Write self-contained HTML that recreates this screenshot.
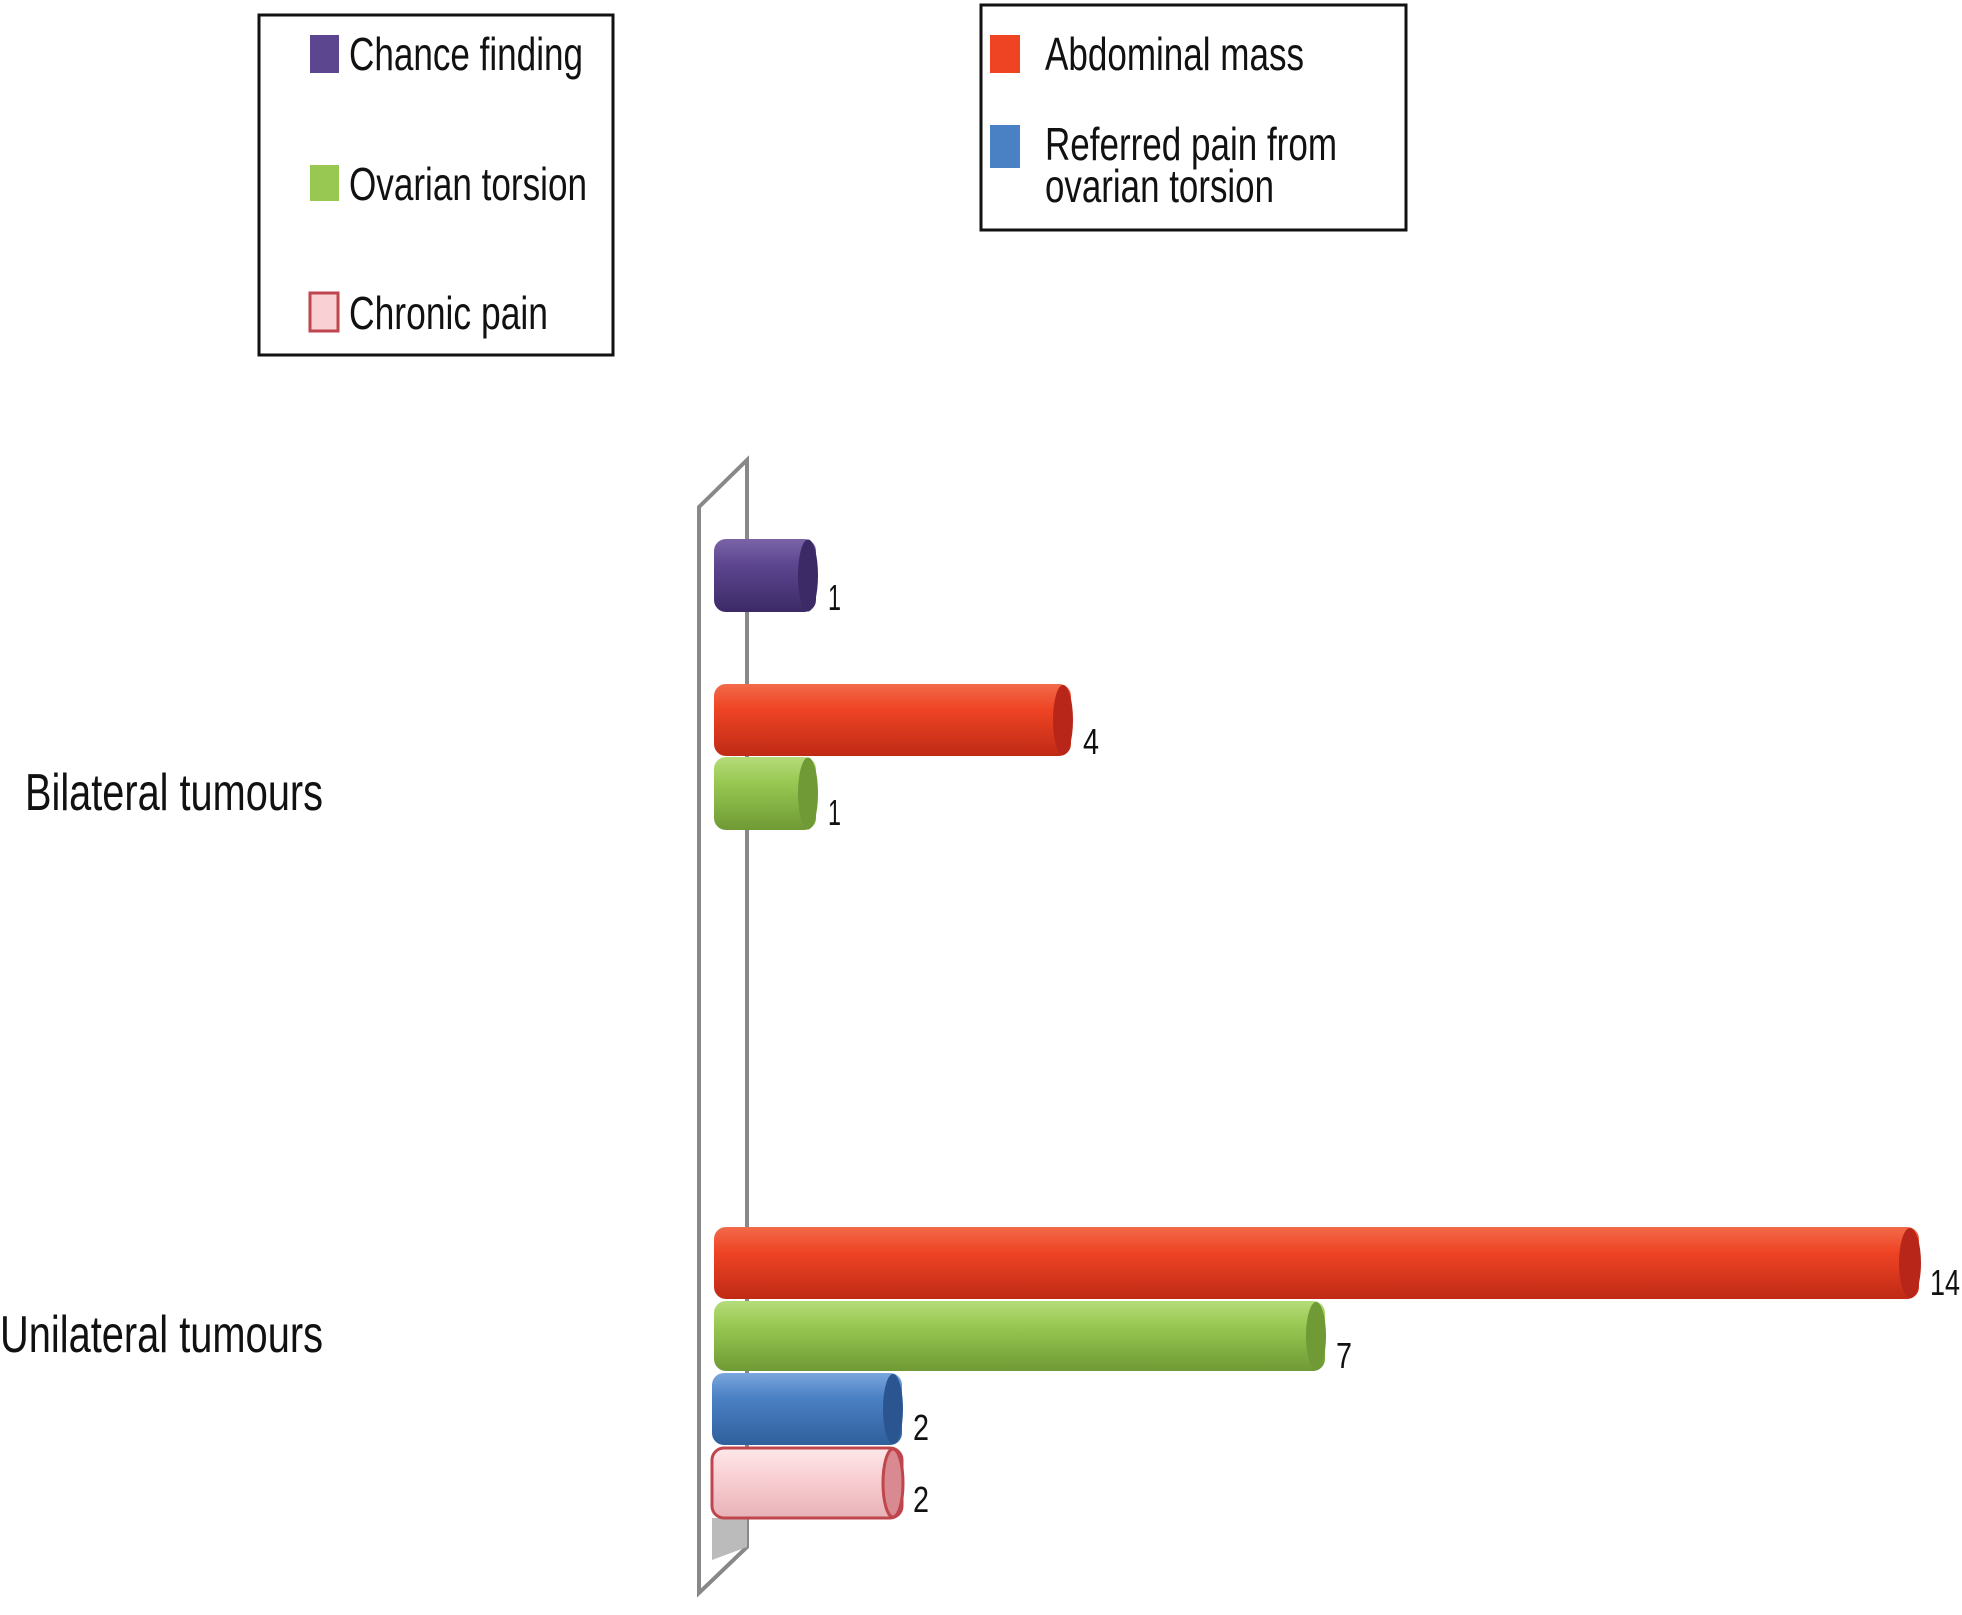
<!DOCTYPE html>
<html><head><meta charset="utf-8">
<style>
html,body{margin:0;padding:0;background:#fff;}
svg{display:block;}
text{font-family:"Liberation Sans Narrow","Liberation Sans",sans-serif;fill:#111;}
</style></head><body>
<svg width="1962" height="1615" viewBox="0 0 1962 1615" xmlns="http://www.w3.org/2000/svg">
<defs>
<linearGradient id="gp" x1="0" y1="0" x2="0" y2="1"><stop offset="0" stop-color="#7a64a6"/><stop offset=".35" stop-color="#5d4690"/><stop offset="1" stop-color="#3b2a66"/></linearGradient>
<linearGradient id="gr" x1="0" y1="0" x2="0" y2="1"><stop offset="0" stop-color="#f26a4a"/><stop offset=".35" stop-color="#ee4424"/><stop offset="1" stop-color="#c02a15"/></linearGradient>
<linearGradient id="gg" x1="0" y1="0" x2="0" y2="1"><stop offset="0" stop-color="#b5dc7a"/><stop offset=".35" stop-color="#98c852"/><stop offset="1" stop-color="#6f9a35"/></linearGradient>
<linearGradient id="gb" x1="0" y1="0" x2="0" y2="1"><stop offset="0" stop-color="#7aa6dc"/><stop offset=".35" stop-color="#4a80c4"/><stop offset="1" stop-color="#2f5f9c"/></linearGradient>
<linearGradient id="gk" x1="0" y1="0" x2="0" y2="1"><stop offset="0" stop-color="#fde8ea"/><stop offset=".4" stop-color="#f9d0d4"/><stop offset="1" stop-color="#e7b2b7"/></linearGradient>
</defs>

<!-- legends -->
<rect x="259" y="15" width="354" height="340" fill="none" stroke="#111" stroke-width="3"/>
<rect x="310" y="35" width="29" height="38" fill="#5d4690"/>
<text x="349" y="70" font-size="46" textLength="234" lengthAdjust="spacingAndGlyphs">Chance finding</text>
<rect x="310" y="165" width="29" height="36" fill="#98c852"/>
<text x="349" y="200" font-size="46" textLength="238" lengthAdjust="spacingAndGlyphs">Ovarian torsion</text>
<rect x="310" y="293" width="28" height="38" fill="#f9d0d4" stroke="#c0464e" stroke-width="3"/>
<text x="349" y="329" font-size="46" textLength="199" lengthAdjust="spacingAndGlyphs">Chronic pain</text>

<rect x="981" y="5" width="425" height="225" fill="none" stroke="#111" stroke-width="3"/>
<rect x="990" y="35" width="30" height="38" fill="#ee4424"/>
<text x="1045" y="70" font-size="46" textLength="259" lengthAdjust="spacingAndGlyphs">Abdominal mass</text>
<rect x="990" y="125" width="30" height="43" fill="#4a80c4"/>
<text x="1045" y="160" font-size="46" textLength="292" lengthAdjust="spacingAndGlyphs">Referred pain from</text>
<text x="1045" y="202" font-size="46" textLength="229" lengthAdjust="spacingAndGlyphs">ovarian torsion</text>

<!-- axis wall -->
<polygon points="699,507 747,460 747,1547 699,1593" fill="#fff" stroke="#888" stroke-width="4"/>
<polygon points="712,1518 747,1518 747,1547 712,1560" fill="#bbb"/>

<!-- category labels -->
<text x="25" y="810" font-size="52" textLength="298" lengthAdjust="spacingAndGlyphs">Bilateral tumours</text>
<text x="0" y="1352" font-size="52" textLength="323" lengthAdjust="spacingAndGlyphs">Unilateral tumours</text>

<!-- bars -->
<g>
<rect x="714" y="539" width="102" height="73" rx="12" fill="url(#gp)"/>
<ellipse cx="808" cy="575.5" rx="10" ry="36" fill="#3b2a66"/>
<text x="828" y="610" font-size="36" textLength="13" lengthAdjust="spacingAndGlyphs">1</text>

<rect x="714" y="684" width="357" height="72" rx="12" fill="url(#gr)"/>
<ellipse cx="1063" cy="720" rx="10" ry="35" fill="#b8261a"/>
<text x="1083" y="754" font-size="36" textLength="16" lengthAdjust="spacingAndGlyphs">4</text>

<rect x="714" y="757" width="102" height="73" rx="12" fill="url(#gg)"/>
<ellipse cx="808" cy="793.5" rx="10" ry="36" fill="#6f9a35"/>
<text x="828" y="825" font-size="36" textLength="13" lengthAdjust="spacingAndGlyphs">1</text>

<rect x="714" y="1227" width="1205" height="72" rx="12" fill="url(#gr)"/>
<ellipse cx="1910" cy="1263" rx="11" ry="35" fill="#b8261a"/>
<text x="1930" y="1295" font-size="36" textLength="30" lengthAdjust="spacingAndGlyphs">14</text>

<rect x="714" y="1301" width="611" height="70" rx="12" fill="url(#gg)"/>
<ellipse cx="1316" cy="1336" rx="10" ry="34" fill="#6f9a35"/>
<text x="1336" y="1368" font-size="36" textLength="16" lengthAdjust="spacingAndGlyphs">7</text>

<rect x="712" y="1373" width="190" height="72" rx="12" fill="url(#gb)"/>
<ellipse cx="893" cy="1409" rx="10" ry="35" fill="#2a5590"/>
<text x="913" y="1440" font-size="36" textLength="16" lengthAdjust="spacingAndGlyphs">2</text>

<rect x="712" y="1448" width="190" height="70" rx="12" fill="url(#gk)" stroke="#c0464e" stroke-width="3"/>
<ellipse cx="893" cy="1483" rx="10" ry="34" fill="#d88a90" stroke="#c0464e" stroke-width="3"/>
<text x="913" y="1512" font-size="36" textLength="16" lengthAdjust="spacingAndGlyphs">2</text>
</g>
</svg>
</body></html>
